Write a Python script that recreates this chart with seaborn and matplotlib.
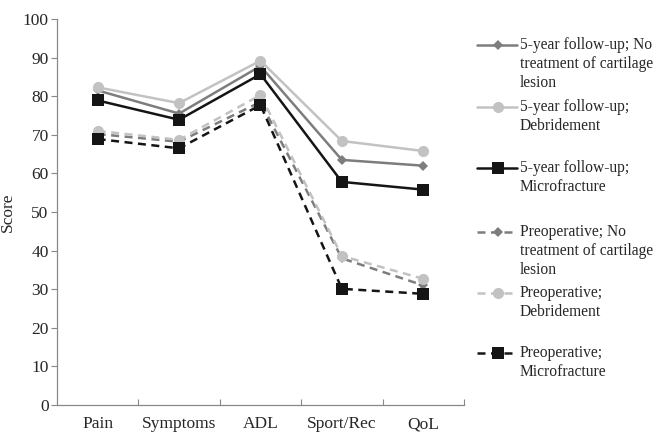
import matplotlib
matplotlib.use("Agg")
import matplotlib.pyplot as plt
from matplotlib.lines import Line2D
import seaborn as sns
import pandas as pd

# data
categories = ["Pain", "Symptoms", "ADL", "Sport/Rec", "QoL"]
fu_none = [81.5, 75.5, 87.8, 63.5, 62.0]
fu_debr = [82.3, 78.2, 89.2, 68.4, 65.8]
fu_micro = [78.9, 73.9, 85.7, 57.8, 55.8]
pre_none = [70.2, 68.2, 78.5, 38.0, 31.0]
pre_debr = [71.0, 68.7, 80.3, 38.6, 32.7]
pre_micro = [68.9, 66.5, 77.7, 30.1, 28.8]

series_names = [
    "5-year follow-up; No\ntreatment of cartilage\nlesion",
    "5-year follow-up;\nDebridement",
    "5-year follow-up;\nMicrofracture",
    "Preoperative; No\ntreatment of cartilage\nlesion",
    "Preoperative;\nDebridement",
    "Preoperative;\nMicrofracture",
]
series_values = [fu_none, fu_debr, fu_micro, pre_none, pre_debr, pre_micro]

# styles
colors = ["#7d7d7d", "#c2c2c2", "#151515", "#7d7d7d", "#c2c2c2", "#151515"]
markers = ["D", "o", "s", "D", "o", "s"]
msizes = [5.5, 8, 8.5, 5.5, 8, 8.5]
dashed = [False, False, False, True, True, True]
dash_style = (0, (3.2, 2.2))

rows = []
for name, vals in zip(series_names, series_values):
    for cat, v in zip(categories, vals):
        rows.append({"series": name, "category": cat, "score": v})
df = pd.DataFrame(rows)

sns.set_style("white")
plt.rcParams["font.family"] = ["Liberation Serif", "DejaVu Serif"]

fig = plt.figure(figsize=(6.58, 4.32), dpi=100)
ax = fig.add_axes([0.0866, 0.0625, 0.6185, 0.8935])

for i, name in enumerate(series_names):
    sub = df[df["series"] == name]
    sns.lineplot(data=sub, x="category", y="score", ax=ax, color=colors[i],
                 marker=markers[i], markersize=msizes[i], markeredgewidth=0,
                 linewidth=1.8, linestyle=dash_style if dashed[i] else "-",
                 legend=False, sort=False)

ax.set_xlim(-0.5, 4.5)
ax.set_ylim(0, 100)
ax.set_yticks(range(0, 101, 10))
ax.set_xticks(range(len(categories)))
ax.set_xticklabels(categories)
ax.set_xticks([x + 0.5 for x in range(len(categories))], minor=True)
ax.set_xlabel("")
ax.set_ylabel("Score", fontsize=12.5, labelpad=5)
ax.tick_params(axis="x", which="major", length=0, pad=8, labelsize=12.5)
ax.tick_params(axis="x", which="minor", direction="in", length=4, width=0.8,
               color="#888888", bottom=True)
ax.tick_params(axis="y", direction="out", length=4, width=0.8, color="#888888",
               left=True, labelsize=12.5, pad=2)
for side in ["top", "right"]:
    ax.spines[side].set_visible(False)
for side in ["left", "bottom"]:
    ax.spines[side].set_color("#888888")
    ax.spines[side].set_linewidth(0.9)

# legend, handle aligned with the first text line
first_line_y = [45, 107, 168, 232, 293, 353]
for i, name in enumerate(series_names):
    yf = 1 - first_line_y[i] / 432
    ls = dash_style if dashed[i] else "-"
    fig.add_artist(Line2D([477 / 658, 517 / 658], [yf, yf], color=colors[i],
                          linestyle=ls, linewidth=1.8,
                          transform=fig.transFigure))
    fig.add_artist(Line2D([498 / 658], [yf], color=colors[i], marker=markers[i],
                          markersize=msizes[i], markeredgewidth=0, linestyle="none",
                          transform=fig.transFigure))
    fig.text(520 / 658, yf + 8 / 432, name, fontsize=11.2, va="top", ha="left",
             linespacing=1.27, transform=fig.transFigure)

fig.savefig("out.png", dpi=100)
